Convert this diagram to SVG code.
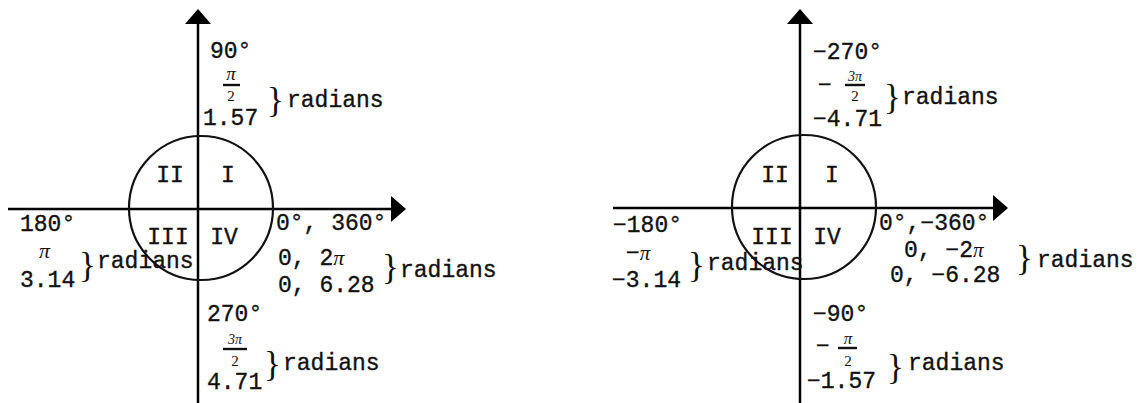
<svg xmlns="http://www.w3.org/2000/svg" width="1142" height="403" viewBox="0 0 1142 403">
<defs>
<style>
.ax{stroke:#000;stroke-width:2.5;fill:none}
.ci{stroke:#111;stroke-width:2.2;fill:none}
.bar{stroke:#111;stroke-width:2.4}
.t{font-family:"Liberation Mono",monospace;font-size:23px;fill:#111;stroke:#111;stroke-width:0.35}
.pi{font-family:"Liberation Serif",serif;font-style:italic;fill:#111;stroke:none}
.sm{font-family:"Liberation Serif",serif;font-size:15px;fill:#111}
.br{font-family:"Liberation Serif",serif;font-size:35px;fill:#111}
.m{text-anchor:middle}
</style>
<marker id="arr" viewBox="0 0 15 26" refX="0" refY="13" markerWidth="15" markerHeight="26" markerUnits="userSpaceOnUse" orient="auto">
<path d="M0,0 L15,13 L0,26 z" fill="#000"/>
</marker>
</defs>
<rect width="1142" height="403" fill="#fff"/>

<g id="connectors">
<line class="ax" x1="198" y1="403" x2="198" y2="24" marker-end="url(#arr)"/>
<line class="ax" x1="8" y1="209" x2="391" y2="209" marker-end="url(#arr)"/>
<line class="ax" x1="800" y1="403" x2="800" y2="24" marker-end="url(#arr)"/>
<line class="ax" x1="613" y1="208" x2="993" y2="208" marker-end="url(#arr)"/>
</g>

<g id="circle-left"><circle class="ci" cx="201" cy="208" r="72"/>
<text class="t m" x="170" y="182">II</text><text class="t m" x="228" y="182">I</text>
<text class="t m" x="168" y="244">III</text><text class="t m" x="224" y="244">IV</text>
</g>

<g id="left-90">
<text class="t" x="210" y="58">90°</text>
<text class="pi m" x="231" y="80" font-size="19">π</text>
<line class="bar" x1="223" y1="85" x2="240" y2="85"/>
<text class="sm m" x="231" y="101">2</text>
<text class="t" x="203" y="125">1.57</text>
<text class="br" x="267" y="112">}</text>
<text class="t" x="287" y="107">radians</text>
</g>

<g id="left-180">
<text class="t" x="20" y="231">180°</text>
<text class="pi" x="39" y="258" font-size="22">π</text>
<text class="t" x="20" y="287">3.14</text>
<text class="br" x="79" y="277" font-size="42">}</text>
<text class="t" x="97" y="268">radians</text>
</g>

<g id="left-0">
<text class="t" x="276" y="230">0°, 360°</text>
<text class="t" x="278" y="265">0, 2<tspan class="pi" font-size="22">π</tspan></text>
<text class="t" x="278" y="292">0, 6.28</text>
<text class="br" x="382" y="279">}</text>
<text class="t" x="400" y="277">radians</text>
</g>

<g id="left-270">
<text class="t" x="207" y="321">270°</text>
<text class="pi m" x="235" y="344" font-size="14">3π</text>
<line class="bar" x1="223" y1="349" x2="247" y2="349"/>
<text class="sm m" x="235" y="366">2</text>
<text class="t" x="207" y="389">4.71</text>
<text class="br" x="264" y="376">}</text>
<text class="t" x="283" y="370">radians</text>
</g>

<g id="circle-right"><circle class="ci" cx="804" cy="207" r="72"/>
<text class="t m" x="775" y="182">II</text><text class="t m" x="832" y="182">I</text>
<text class="t m" x="772" y="244">III</text><text class="t m" x="827" y="244">IV</text>
</g>

<g id="right-270">
<text class="t" x="813" y="59">−270°</text>
<text class="t" x="818" y="92">−</text>
<text class="pi m" x="855" y="81" font-size="14">3π</text>
<line class="bar" x1="845" y1="85" x2="865" y2="85"/>
<text class="sm m" x="855" y="101">2</text>
<text class="t" x="813" y="126">−4.71</text>
<text class="br" x="884" y="109">}</text>
<text class="t" x="902" y="104">radians</text>
</g>

<g id="right-180">
<text class="t" x="613" y="232">−180°</text>
<text class="t" x="626" y="260">−<tspan class="pi" font-size="21">π</tspan></text>
<text class="t" x="612" y="287">−3.14</text>
<text class="br" x="688" y="277">}</text>
<text class="t" x="707" y="270">radians</text>
</g>

<g id="right-0">
<text class="t" x="879" y="230">0°,−360°</text>
<text class="t" x="904" y="257">0, −2<tspan class="pi" font-size="21">π</tspan></text>
<text class="t" x="890" y="282">0, −6.28</text>
<text class="br" x="1016" y="270">}</text>
<text class="t" x="1037" y="267">radians</text>
</g>

<g id="right-90">
<text class="t" x="813" y="321">−90°</text>
<text class="t" x="816" y="353">−</text>
<text class="pi m" x="848" y="344" font-size="17">π</text>
<line class="bar" x1="838" y1="348" x2="857" y2="348"/>
<text class="sm m" x="848" y="366">2</text>
<text class="t" x="807" y="388">−1.57</text>
<text class="br" x="887" y="379" font-size="32">}</text>
<text class="t" x="908" y="370">radians</text>
</g>
</svg>
